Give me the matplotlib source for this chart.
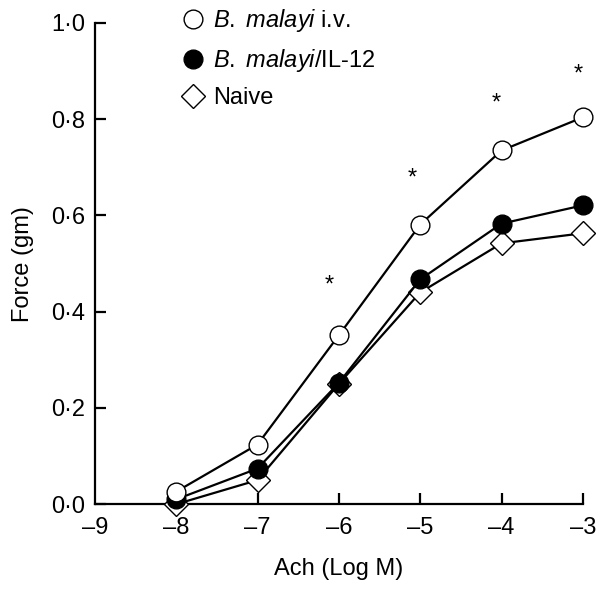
import matplotlib
matplotlib.use("Agg")
import matplotlib.pyplot as plt
from matplotlib.lines import Line2D
from matplotlib.ticker import FuncFormatter

plt.rcParams["font.family"] = ["Liberation Sans", "DejaVu Sans"]
plt.rcParams["mathtext.fontset"] = "custom"
plt.rcParams["mathtext.rm"] = "Liberation Sans"
plt.rcParams["mathtext.it"] = "Liberation Sans:italic"

# Ach concentration (log M)
log_ach = [-8, -7, -6, -5, -4, -3]

# force (gm) per group
force_iv = [0.026, 0.124, 0.351, 0.581, 0.735, 0.804]
force_il12 = [0.010, 0.074, 0.252, 0.467, 0.583, 0.621]
force_naive = [0.000, 0.050, 0.250, 0.440, 0.542, 0.563]

# significance markers
star_x = [-6.12, -5.1, -4.06, -3.06]
star_y = [0.455, 0.676, 0.832, 0.893]

labels = [r"$\mathit{B.}$ $\mathit{malayi}$ i.v.", r"$\mathit{B.}$ $\mathit{malayi}$/IL-12", "Naive"]

FS = 17

fig = plt.figure(figsize=(6.04, 5.89), dpi=100)
ax = fig.add_axes([0.157, 0.144, 0.808, 0.817])

line_kw = dict(color="black", linewidth=1.6, markeredgewidth=1.0, clip_on=False, zorder=3)
ax.plot(log_ach, force_naive, marker="D", markersize=12, markerfacecolor="white", **line_kw)
ax.plot(log_ach, force_il12, marker="o", markersize=13.5, markerfacecolor="black", **line_kw)
ax.plot(log_ach, force_iv, marker="o", markersize=13.5, markerfacecolor="white", **line_kw)

for sx, sy in zip(star_x, star_y):
    ax.text(sx, sy, "*", ha="center", va="center", fontsize=17)

ax.set_xlim(-9, -3)
ax.set_ylim(0, 1.0)
ax.set_xticks(range(-9, -2))
ax.set_yticks([0, 0.2, 0.4, 0.6, 0.8, 1.0])
ax.yaxis.set_major_formatter(FuncFormatter(lambda v, p: f"{v:.1f}".replace(".", "\u00b7")))
ax.xaxis.set_major_formatter(FuncFormatter(lambda v, p: f"\u2013{abs(int(v))}"))

ax.spines["top"].set_visible(False)
ax.spines["right"].set_visible(False)
ax.spines["left"].set_linewidth(1.6)
ax.spines["bottom"].set_linewidth(1.6)
ax.tick_params(direction="in", length=8, width=1.6, labelsize=FS)
ax.tick_params(axis="x", pad=9)
ax.tick_params(axis="y", pad=7)
ax.xaxis.get_major_ticks()[0].tick1line.set_visible(False)

ax.set_xlabel("Ach (Log M)", fontsize=FS, labelpad=14)
ax.set_ylabel("Force (gm)", fontsize=FS, labelpad=12)

handles = [
    Line2D([], [], linestyle="none", marker="o", markersize=13.5, markerfacecolor="white", markeredgecolor="black"),
    Line2D([], [], linestyle="none", marker="o", markersize=13.5, markerfacecolor="black", markeredgecolor="black"),
    Line2D([], [], linestyle="none", marker="D", markersize=12, markerfacecolor="white", markeredgecolor="black"),
]
fig.legend(handles, labels, loc="upper left", bbox_to_anchor=(0.265, 1.024), frameon=False,
           fontsize=FS, handlelength=1.0, handletextpad=0.35, labelspacing=0.55)

fig.savefig("out.png", dpi=100)
